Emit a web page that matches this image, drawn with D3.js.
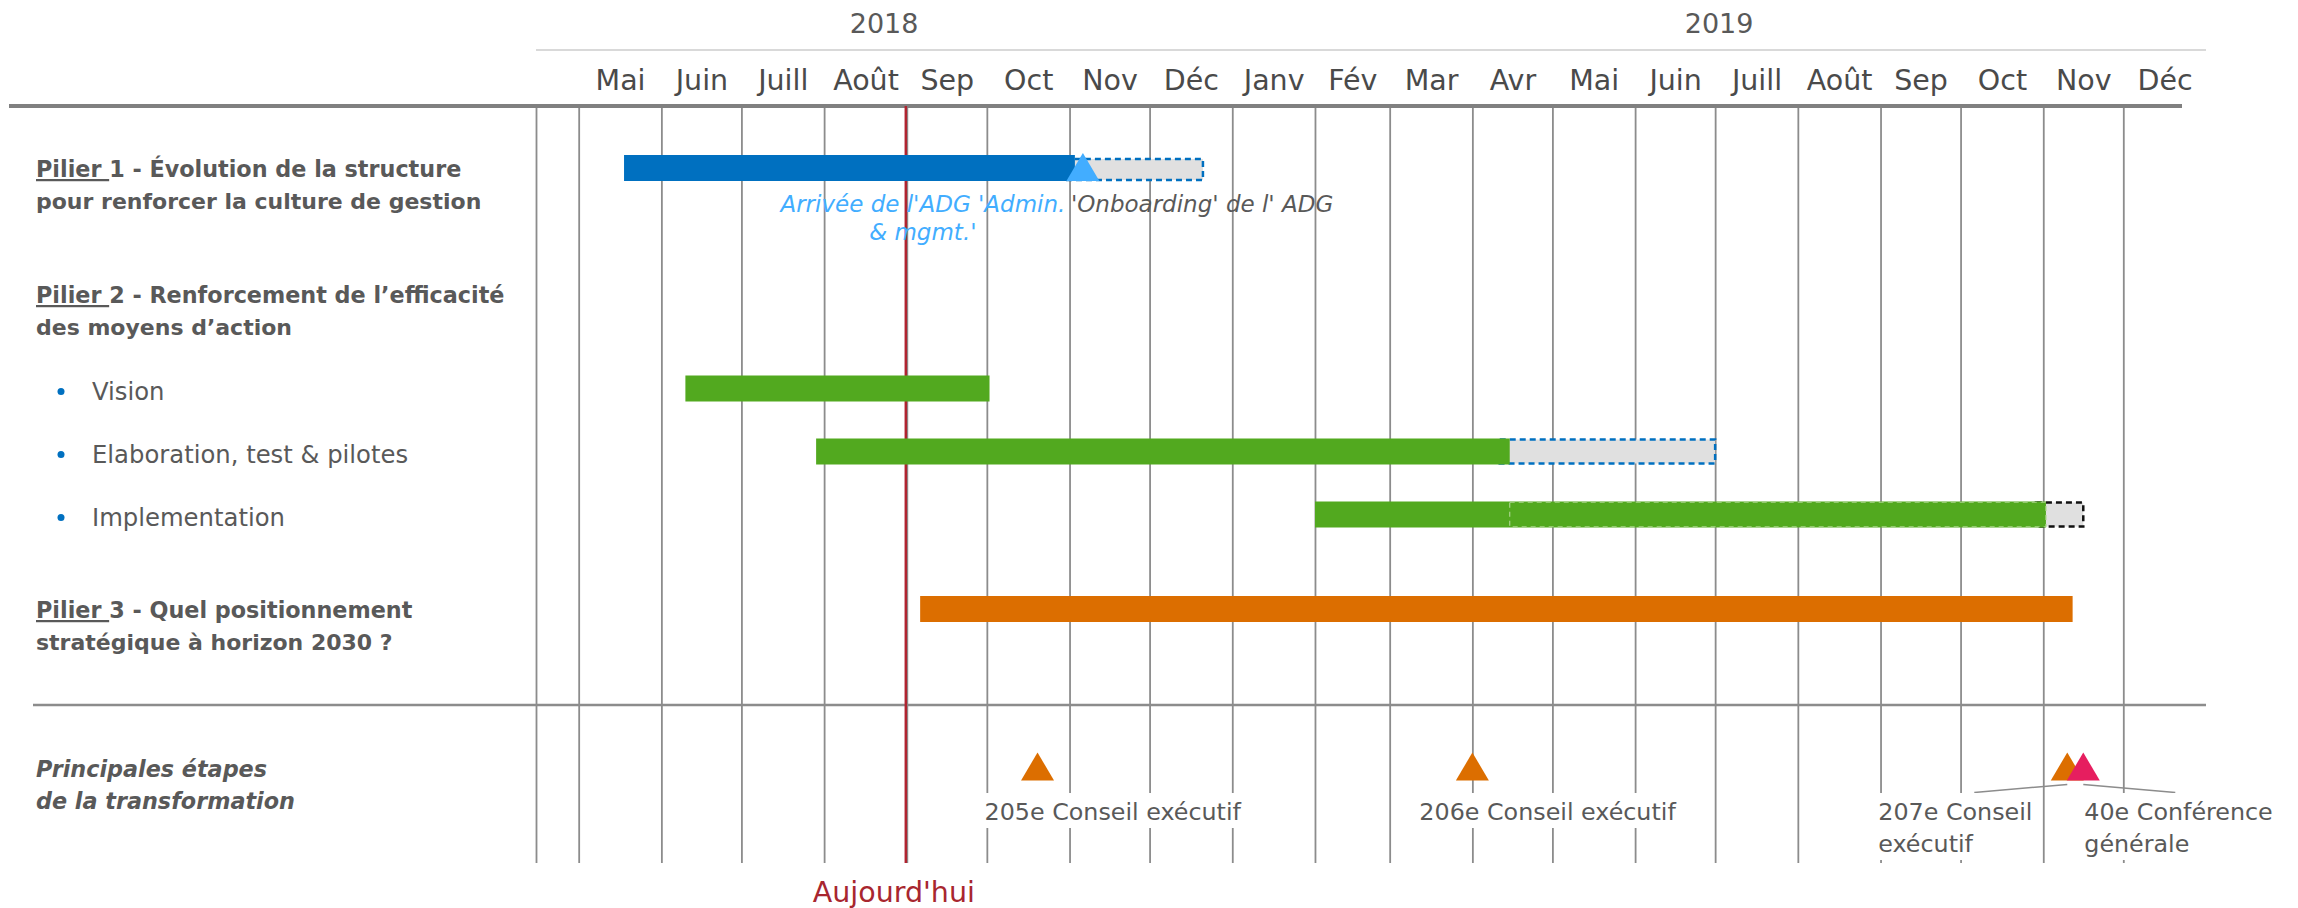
<!DOCTYPE html>
<html>
<head>
<meta charset="utf-8">
<script src="https://cdn.jsdelivr.net/npm/d3@7"></script>
<style>
  html, body { margin: 0; padding: 0; background: #fff; }
  svg { display: block; }
  text { font-family: "DejaVu Sans", Verdana, sans-serif; }
</style>
</head>
<body>
<svg id="chart" width="2298" height="908"></svg>
<script>
// ---------------- DATA ----------------
const years = ["2018", "2019"];
const yearStarts = ["2018-04-15", "2019-01-01"];
const monthLabels = ["Mai","Juin","Juill","Août","Sep","Oct","Nov","Déc","Janv","Fév","Mar","Avr",
                     "Mai","Juin","Juill","Août","Sep","Oct","Nov","Déc"];
const monthStarts = ["2018-05-01","2018-06-01","2018-07-01","2018-08-01","2018-09-01","2018-10-01",
                     "2018-11-01","2018-12-01","2019-01-01","2019-02-01","2019-03-01","2019-04-01",
                     "2019-05-01","2019-06-01","2019-07-01","2019-08-01","2019-09-01","2019-10-01",
                     "2019-11-01","2019-12-01","2020-01-01"];

const taskKeys   = ["p1", "vision", "elab", "impl", "p3"];
const taskStart  = ["2018-05-18", "2018-06-10", "2018-07-29", "2019-02-01", "2018-09-06"];
const taskEnd    = ["2018-11-03", "2018-10-02", "2019-04-15", "2019-11-02", "2019-11-12"];
const plannedEnd = ["2018-12-21", null,         "2019-07-01", "2019-11-16", null];
const outlineFrom = [null, null, null, "2019-04-15", null];
const taskGroup  = ["blue", "green", "green", "green", "orange"];

const today = "2018-09-01";
const todayLabel = "Aujourd'hui";

const arrivalDate = "2018-11-06";
const arrivalLabel = ["Arrivée de l'ADG 'Admin.", "& mgmt.'"];
const onboardingLabel = "'Onboarding' de l' ADG";

const milestoneDates  = ["2018-10-20", "2019-04-01", "2019-11-10", "2019-11-16"];
const milestoneLabels = [["205e Conseil exécutif"], ["206e Conseil exécutif"],
                         ["207e Conseil", "exécutif"], ["40e Conférence", "générale"]];
const milestoneType   = ["conseil", "conseil", "conseil", "conference"];

// ---------------- LAYOUT / STYLE ----------------
const parse = d3.timeParse("%Y-%m-%d");
const W = 2298, H = 908;
const left = 536, right = 2206;
const domainStart = parse("2018-04-15"), domainEnd = parse("2020-01-01");
const x = d3.scaleTime().domain([domainStart, domainEnd]).range([left, right]);
const y = d3.scaleLinear().domain([0, 1]).range([168, 231]); // row index -> centre
const rowIndex = { p1: 0, p2: 2, vision: 3.5, elab: 4.5, impl: 5.5, p3: 7, milestones: 9.5 };
const barH = 26;
const colors = { blue: "#0070c0", green: "#52a91f", orange: "#dc6e00", grayFill: "#e0e0e0",
                 text: "#595959", grid: "#8c8c8c", today: "#b02430", todayText: "#a8262f",
                 lightBlue: "#42adff", conseil: "#dc6e00", conference: "#e61e5f" };
const gridTop = 106, gridBottom = 863;

const svg = d3.select("#chart");
svg.append("rect").attr("width", W).attr("height", H).attr("fill", "#fff");

// header light line
svg.append("line").attr("x1", left).attr("x2", right).attr("y1", 50).attr("y2", 50)
  .attr("stroke", "#d9d9d9").attr("stroke-width", 2);

// years (centered on year segment)
const yearBounds = yearStarts.map(parse).concat([domainEnd]);
svg.append("g").selectAll("text").data(years).join("text")
  .attr("x", (d, i) => (x(yearBounds[i]) + x(yearBounds[i + 1])) / 2)
  .attr("y", 33).attr("text-anchor", "middle")
  .attr("font-size", 27).attr("fill", colors.text).text(d => d);

// month labels via axis
const ms = monthStarts.map(parse);
const mids = ms.slice(0, -1).map((d, i) => new Date((+d + +ms[i + 1]) / 2));
const monthAxis = d3.axisTop(x).tickValues(mids).tickSize(0).tickPadding(0)
  .tickFormat((d, i) => monthLabels[i]);
const gm = svg.append("g").attr("transform", "translate(0,90)").call(monthAxis);
gm.select(".domain").remove();
gm.selectAll("text").attr("font-size", 28.5).attr("fill", "#4a4a4a")
  .attr("font-family", '"DejaVu Sans", Verdana, sans-serif').attr("dy", 0);

// gridlines via axis (chart left edge + month starts up to Dec 2019)
const gridVals = [domainStart].concat(ms.slice(0, -1));
const gridAxis = d3.axisBottom(x).tickValues(gridVals).tickSize(gridBottom - gridTop).tickFormat("");
const gg = svg.append("g").attr("transform", `translate(0,${gridTop})`).call(gridAxis);
gg.select(".domain").remove();
gg.selectAll("line").attr("stroke", colors.grid).attr("stroke-width", 1.8);

// thick header separator
svg.append("line").attr("x1", 9).attr("x2", 2182).attr("y1", 106).attr("y2", 106)
  .attr("stroke", "#808080").attr("stroke-width", 4);

// bottom separator
svg.append("line").attr("x1", 33).attr("x2", right).attr("y1", 705).attr("y2", 705)
  .attr("stroke", "#8c8c8c").attr("stroke-width", 2.5);

// today line
svg.append("line").attr("x1", x(parse(today)) - 1).attr("x2", x(parse(today)) - 1)
  .attr("y1", gridTop).attr("y2", gridBottom).attr("stroke", colors.today).attr("stroke-width", 2.5);
svg.append("text").attr("x", x(parse(today)) - 13).attr("y", 902).attr("text-anchor", "middle")
  .attr("font-size", 28.5).attr("fill", colors.todayText).text(todayLabel);

// ---------------- LEFT LABELS ----------------
const labelG = svg.append("g").attr("fill", colors.text);
function pilier(num, rest, line2, r) {
  const t = labelG.append("text").attr("x", 36).attr("y", y(r) + 9)
    .attr("font-size", 22.3).attr("font-weight", "bold");
  t.append("tspan").attr("text-decoration", "underline").text("Pilier ");
  t.append("tspan").text(num + " - " + rest);
  labelG.append("text").attr("x", 36).attr("y", y(r) + 41)
    .attr("font-size", 22).attr("font-weight", "bold").text(line2);
}
pilier("1", "Évolution de la structure", "pour renforcer la culture de gestion", rowIndex.p1);
pilier("2", "Renforcement de l’efficacité", "des moyens d’action", rowIndex.p2);
pilier("3", "Quel positionnement", "stratégique à horizon 2030 ?", rowIndex.p3);

const bullets = [["Vision", "vision"], ["Elaboration, test & pilotes", "elab"], ["Implementation", "impl"]];
bullets.forEach(([lab, key]) => {
  labelG.append("circle").attr("cx", 61).attr("cy", y(rowIndex[key]) + 3).attr("r", 3.5).attr("fill", colors.blue);
  labelG.append("text").attr("x", 92).attr("y", y(rowIndex[key]) + 11).attr("font-size", 24.3).text(lab);
});

labelG.append("text").attr("x", 36).attr("y", y(rowIndex.milestones) + 10)
  .attr("font-size", 22.3).attr("font-weight", "bold").attr("font-style", "italic").text("Principales étapes");
labelG.append("text").attr("x", 36).attr("y", y(rowIndex.milestones) + 42)
  .attr("font-size", 22.3).attr("font-weight", "bold").attr("font-style", "italic").text("de la transformation");

// ---------------- BARS ----------------
const tasks = taskKeys.map((k, i) => ({
  key: k, start: parse(taskStart[i]), end: parse(taskEnd[i]),
  planned: plannedEnd[i] ? parse(plannedEnd[i]) : null,
  outline: outlineFrom[i] ? parse(outlineFrom[i]) : null, group: taskGroup[i]
}));
const barsG = svg.append("g");
// planned (gray dashed) extensions
barsG.selectAll("rect.planned").data(tasks.filter(d => d.planned)).join("rect")
  .attr("class", "planned")
  .attr("x", d => x(d.end) - 10)
  .attr("y", d => y(rowIndex[d.key]) - barH / 2 + (d.key === "p1" ? 4 : 1))
  .attr("width", d => x(d.planned) - x(d.end) + 10)
  .attr("height", d => barH - (d.key === "p1" ? 5 : 2))
  .attr("fill", colors.grayFill)
  .attr("stroke", d => d.key === "impl" ? "#111" : colors.blue)
  .attr("stroke-width", 2.5).attr("stroke-dasharray", "6,4");
barsG.selectAll("rect.bar").data(tasks).join("rect")
  .attr("class", "bar")
  .attr("x", d => x(d.start)).attr("y", d => y(rowIndex[d.key]) - barH / 2)
  .attr("width", d => x(d.end) - x(d.start)).attr("height", barH)
  .attr("fill", d => colors[d.group]);
barsG.selectAll("rect.outline").data(tasks.filter(d => d.outline)).join("rect")
  .attr("class", "outline")
  .attr("x", d => x(d.outline)).attr("y", d => y(rowIndex[d.key]) - barH / 2 + 0.75)
  .attr("width", d => x(d.end) - x(d.outline)).attr("height", barH - 1.5)
  .attr("fill", "none").attr("stroke", "#a9d48a").attr("stroke-width", 1.2).attr("stroke-dasharray", "5,4");

// arrival triangle
function triPath(cx, baseY, w, h) {
  return `M${cx},${baseY - h}L${cx + w / 2},${baseY}L${cx - w / 2},${baseY}Z`;
}
const ax = x(parse(arrivalDate));
svg.append("path").attr("d", triPath(ax, y(rowIndex.p1) + 13, 33, 28)).attr("fill", colors.lightBlue);
const annG = svg.append("g").attr("font-size", 23).attr("font-style", "italic");
annG.selectAll("text.arr").data(arrivalLabel).join("text").attr("class", "arr")
  .attr("x", ax - 160).attr("y", (d, i) => 212 + i * 28).attr("text-anchor", "middle")
  .attr("fill", colors.lightBlue).text(d => d);
annG.append("text").attr("x", ax - 12).attr("y", 212).attr("fill", colors.text).text(onboardingLabel);

// ---------------- MILESTONES ----------------
const labelDx = [-53, -53, -189, 1];
const miles = milestoneDates.map((d, i) => ({ date: parse(d), lines: milestoneLabels[i], type: milestoneType[i], dx: labelDx[i] }));
const mG = svg.append("g");
const baseY = y(rowIndex.milestones) + 14;
// leader lines for the grouped pair
mG.append("line").attr("x1", x(miles[2].date)).attr("y1", baseY + 4).attr("x2", x(miles[2].date) - 93).attr("y2", baseY + 12)
  .attr("stroke", "#8c8c8c").attr("stroke-width", 1.5);
mG.append("line").attr("x1", x(miles[3].date)).attr("y1", baseY + 4).attr("x2", x(miles[3].date) + 92).attr("y2", baseY + 12)
  .attr("stroke", "#8c8c8c").attr("stroke-width", 1.5);
mG.selectAll("path").data(miles).join("path")
  .attr("d", d => triPath(x(d.date), baseY, 33, 28)).attr("fill", d => colors[d.type]);
miles.forEach(m => {
  const g = mG.append("g");
  const bg = g.append("rect").attr("fill", "#fff");
  const t = g.append("text").attr("font-size", 23.8).attr("fill", colors.text);
  t.selectAll("tspan").data(m.lines).join("tspan")
    .attr("x", x(m.date) + m.dx).attr("y", (d, i) => 820 + i * 32).text(d => d);
  const bb = t.node().getBBox();
  bg.attr("x", bb.x - 2).attr("y", 793).attr("width", bb.width + 4).attr("height", bb.y + bb.height - 793 + 2);
});
</script>
</body>
</html>
